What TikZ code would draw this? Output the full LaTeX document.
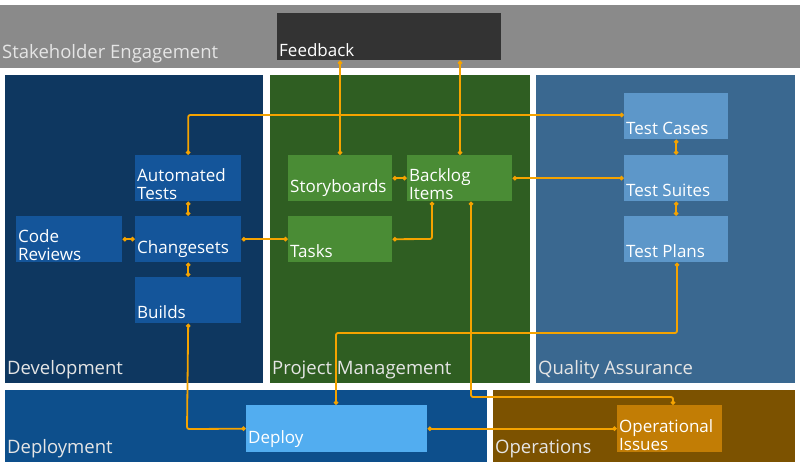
\documentclass[tikz,border=0pt]{standalone}
\usepackage{fontspec}
\setmainfont{Open Sans}
\usetikzlibrary{arrows.meta}
\definecolor{stakecolor}{HTML}{8A8A8A}
\definecolor{feedcolor}{HTML}{333333}
\definecolor{devcolor}{HTML}{0E3760}
\definecolor{devbox}{HTML}{14559A}
\definecolor{pmcolor}{HTML}{2F5E22}
\definecolor{pmbox}{HTML}{4A8C35}
\definecolor{qacolor}{HTML}{3A6890}
\definecolor{qabox}{HTML}{5D97C9}
\definecolor{depcolor}{HTML}{0D4F8C}
\definecolor{depbox}{HTML}{52ADF0}
\definecolor{opscolor}{HTML}{7C5200}
\definecolor{opsbox}{HTML}{C27D05}
\definecolor{linkcolor}{HTML}{F5A300}

\tikzset{
    area/.style 2 args = {anchor = north west, inner sep = 0pt, minimum width = #1, minimum height = #2},
    region/.style = {font = \fontsize{18.5}{20}\selectfont\color{white!90!black}, inner sep = 2pt},
    item/.style = {font = \fontsize{17}{18}\selectfont\color{white}, align = left, inner sep = 2pt},
    link/.style = {linkcolor, line width = 1.8pt, rounded corners = 2pt,
        {Turned Square[length = 5pt, width = 5pt]}-{Turned Square[length = 5pt, width = 5pt]}}
}

\begin{document}
\begin{tikzpicture}[x = 1pt, y = -1pt]
        \useasboundingbox [fill = white] (0, 0) rectangle (800, 467);
        % Regions
        \node [area = {800pt}{63pt}, fill = stakecolor] (stake) at (0, 5) {};
        \node [area = {258pt}{308pt}, fill = devcolor] (dev) at (5, 75) {};
        \node [area = {260pt}{308pt}, fill = pmcolor] (pm) at (270, 75) {};
        \node [area = {259pt}{308pt}, fill = qacolor] (qa) at (536, 75) {};
        \node [area = {482pt}{72pt}, fill = depcolor] (dep) at (5, 390) {};
        \node [area = {302pt}{72pt}, fill = opscolor] (ops) at (493, 390) {};
        \node [region, anchor = south west] at ([yshift = 3pt]stake.south west) {Stakeholder Engagement};
        \node [region, anchor = south west] at ([yshift = 2pt]dev.south west) {Development};
        \node [region, anchor = south west] at ([yshift = 2pt]pm.south west) {Project Management};
        \node [region, anchor = south west] at ([yshift = 2pt]qa.south west) {Quality Assurance};
        \node [region, anchor = south west] at ([yshift = 2pt]dep.south west) {Deployment};
        \node [region, anchor = south west] at ([yshift = 2pt]ops.south west) {Operations};
        % Boxes
        \node [area = {224pt}{47pt}, fill = feedcolor] (feedback) at (277, 13) {};
        \node [area = {106pt}{46pt}, fill = devbox] (autotests) at (135, 155) {};
        \node [area = {106pt}{46pt}, fill = devbox] (reviews) at (16, 216) {};
        \node [area = {106pt}{46pt}, fill = devbox] (changesets) at (135, 216) {};
        \node [area = {106pt}{46pt}, fill = devbox] (builds) at (135, 277) {};
        \node [area = {104pt}{46pt}, fill = pmbox] (storyboards) at (288, 155) {};
        \node [area = {105pt}{46pt}, fill = pmbox] (backlog) at (407, 155) {};
        \node [area = {104pt}{46pt}, fill = pmbox] (tasks) at (288, 216) {};
        \node [area = {104pt}{46pt}, fill = qabox] (testcases) at (624, 93) {};
        \node [area = {104pt}{46pt}, fill = qabox] (testsuites) at (624, 155) {};
        \node [area = {104pt}{46pt}, fill = qabox] (testplans) at (624, 216) {};
        \node [area = {181pt}{47pt}, fill = depbox] (deploy) at (246, 405) {};
        \node [area = {105pt}{47pt}, fill = opsbox] (opissues) at (617, 405) {};
        % Labels
        \node [item, anchor = south west] at ([yshift = 2pt]feedback.south west) {Feedback};
        \node [item, anchor = south west] at (autotests.south west) {Automated\\Tests};
        \node [item, anchor = south west] at (reviews.south west) {Code\\Reviews};
        \node [item, anchor = south west] at ([yshift = 3pt]changesets.south west) {Changesets};
        \node [item, anchor = south west] at ([yshift = 3pt]builds.south west) {Builds};
        \node [item, anchor = south west] at ([yshift = 3pt]storyboards.south west) {Storyboards};
        \node [item, anchor = south west] at (backlog.south west) {Backlog\\Items};
        \node [item, anchor = south west] at ([yshift = 3pt]tasks.south west) {Tasks};
        \node [item, anchor = south west] at ([yshift = 3pt]testcases.south west) {Test Cases};
        \node [item, anchor = south west] at ([yshift = 3pt]testsuites.south west) {Test Suites};
        \node [item, anchor = south west] at ([yshift = 3pt]testplans.south west) {Test Plans};
        \node [item, anchor = south west] at ([yshift = 3pt]deploy.south west) {Deploy};
        \node [item, anchor = south west] at (opissues.south west) {Operational\\Issues};
        % Links
        \draw [link] (autotests.north) -- ++(0, -40) -- (testcases.west |- 0, 115);
        \draw [link] (autotests) -- (changesets);
        \draw [link] (changesets) -- (builds);
        \draw [link] (reviews) -- (changesets);
        \draw [link] (changesets) -- (tasks);
        \draw [link] (storyboards) -- (backlog);
        \draw [link] (tasks.east) -- (432, 239) -- (backlog.south -| 432, 0);
        \draw [link] (feedback.south -| 340, 0) -- (storyboards.north -| 340, 0);
        \draw [link] (feedback.south -| 460, 0) -- (backlog.north -| 460, 0);
        \draw [link] (backlog.east) -- (testsuites.west);
        \draw [link] (testcases) -- (testsuites);
        \draw [link] (testsuites) -- (testplans);
        \draw [link] (testplans.south -| 677, 0) -- (677, 333) -- (336, 333) -- (deploy.north -| 336, 0);
        \draw [link] (backlog.south -| 471, 0) -- (471, 397) -- (673, 397) -- (opissues.north -| 673, 0);
        \draw [link] (builds.south) -- (187, 429) -- (deploy.west);
        \draw [link] (deploy.east) -- (opissues.west);
    \end{tikzpicture}
\end{document}
